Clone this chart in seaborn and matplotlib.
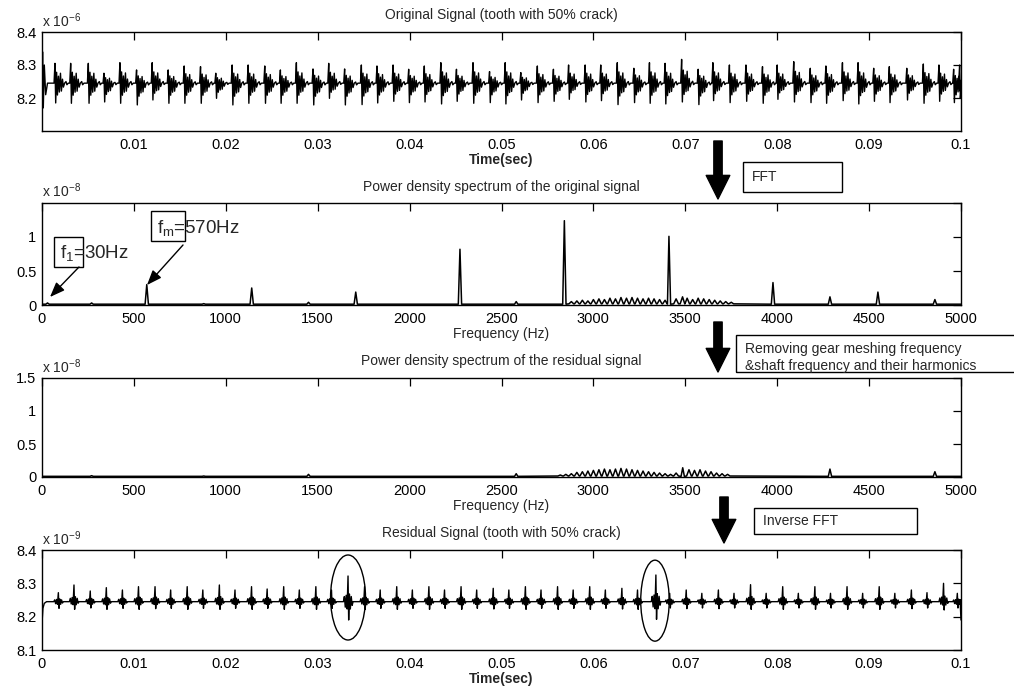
import numpy as np
import pandas as pd
import matplotlib
matplotlib.use("Agg")
import matplotlib.pyplot as plt
import seaborn as sns
from matplotlib.patches import Rectangle, Ellipse, FancyArrowPatch

# ------------------------------------------------------------------ data
# Panel 1: original signal (values x 1e-6), one burst per gear mesh period
orig_burst_t_ms = [1.41, 3.12, 5.04, 6.74, 8.48, 10.29, 11.99, 13.73, 15.47, 17.25,
                   18.91, 20.69, 22.43, 24.24, 25.94, 27.68, 29.49, 31.2, 32.93, 34.75,
                   36.45, 38.2, 39.9, 41.6, 43.4, 45.1, 46.9, 48.7, 50.4, 52.1,
                   53.9, 55.65, 57.3, 59.1, 60.8, 62.6, 64.4, 66.1, 67.8, 69.6,
                   71.4, 73.0, 74.8, 76.6, 78.4, 80.0, 81.8, 83.6, 85.3, 87.1,
                   88.8, 90.5, 92.2, 94.1, 95.9, 97.6, 99.2]
orig_burst_hi = [8.305, 8.305, 8.305, 8.275, 8.307, 8.285, 8.307, 8.285, 8.297, 8.295,
                 8.275, 8.300, 8.300, 8.297, 8.285, 8.307, 8.288, 8.305, 8.288, 8.300,
                 8.297, 8.300, 8.287, 8.297, 8.307, 8.287, 8.307, 8.280, 8.307, 8.277,
                 8.297, 8.287, 8.300, 8.300, 8.300, 8.307, 8.290, 8.307, 8.305, 8.317,
                 8.287, 8.307, 8.300, 8.300, 8.295, 8.300, 8.310, 8.290, 8.297, 8.307,
                 8.307, 8.290, 8.295, 8.290, 8.303, 8.300, 8.287]
orig_burst_lo = [8.185, 8.184, 8.184, 8.188, 8.184, 8.179, 8.194, 8.184, 8.184, 8.184,
                 8.199, 8.179, 8.184, 8.184, 8.184, 8.184, 8.179, 8.199, 8.179, 8.180,
                 8.185, 8.190, 8.186, 8.188, 8.182, 8.190, 8.184, 8.186, 8.182, 8.194,
                 8.186, 8.190, 8.196, 8.188, 8.192, 8.180, 8.186, 8.184, 8.182, 8.188,
                 8.180, 8.192, 8.186, 8.190, 8.184, 8.196, 8.188, 8.186, 8.184, 8.192,
                 8.182, 8.190, 8.186, 8.194, 8.184, 8.190, 8.186]
orig_base = 8.245
orig_start_t_ms = [0.0, 0.06, 0.14, 0.25, 0.4, 0.6]
orig_start_v = [8.17, 8.34, 8.17, 8.30, 8.21, 8.245]
orig_end_t_ms = [99.75, 99.85, 99.93, 100.0]
orig_end_v = [8.245, 8.30, 8.20, 8.22]

# Panel 4: residual signal (values x 1e-9)
resid_spike_t_ms = [1.78, 3.48, 5.25, 7.0, 8.75, 10.5, 12.3, 14.0, 15.8, 17.5,
                    19.3, 21.0, 22.8, 24.5, 26.3, 28.0, 29.8, 31.5, 33.3, 35.1,
                    36.8, 38.6, 40.3, 42.1, 43.8, 45.6, 47.3, 49.1, 50.8, 52.6,
                    54.3, 56.1, 57.8, 59.6, 61.3, 63.1, 64.8, 66.8, 68.3, 70.1,
                    71.8, 73.6, 75.3, 77.1, 78.8, 80.6, 82.3, 84.1, 85.8, 87.6,
                    89.3, 91.1, 92.8, 94.6, 96.3, 98.1, 99.6]
resid_spike_hi = [8.272, 8.295, 8.277, 8.287, 8.280, 8.290, 8.290, 8.280, 8.290, 8.280,
                  8.295, 8.280, 8.290, 8.283, 8.290, 8.280, 8.290, 8.280, 8.322, 8.290,
                  8.280, 8.290, 8.280, 8.290, 8.280, 8.290, 8.280, 8.285, 8.280, 8.290,
                  8.280, 8.290, 8.280, 8.290, 8.280, 8.285, 8.280, 8.325, 8.270, 8.280,
                  8.270, 8.280, 8.270, 8.296, 8.270, 8.290, 8.270, 8.290, 8.270, 8.290,
                  8.270, 8.290, 8.270, 8.280, 8.272, 8.300, 8.270]
resid_spike_lo = [8.225, 8.222, 8.226, 8.222, 8.225, 8.222, 8.224, 8.225, 8.222, 8.225,
                  8.222, 8.225, 8.222, 8.225, 8.222, 8.225, 8.222, 8.225, 8.190, 8.222,
                  8.225, 8.222, 8.225, 8.222, 8.225, 8.222, 8.225, 8.223, 8.225, 8.222,
                  8.225, 8.222, 8.225, 8.222, 8.225, 8.223, 8.222, 8.192, 8.226, 8.224,
                  8.226, 8.224, 8.226, 8.222, 8.226, 8.222, 8.226, 8.222, 8.226, 8.222,
                  8.226, 8.222, 8.226, 8.224, 8.226, 8.220, 8.226]
resid_base = 8.245
resid_start_t_ms = [0.0, 0.1, 0.25, 0.5]
resid_start_v = [8.18, 8.225, 8.24, 8.245]
resid_end_t_ms = [99.8, 99.9, 100.0]
resid_end_v = [8.245, 8.25, 8.19]

# Panel 2: power density spectrum of the original signal (x 1e-8)
orig_peak_f = [30, 270, 570, 880, 1141, 1450, 1707, 2274, 2580, 2842, 3411, 3977,
               4287, 4548, 4858]
orig_peak_h = [0.03, 0.03, 0.30, 0.02, 0.25, 0.04, 0.19, 0.82, 0.05, 1.24, 1.01, 0.33,
               0.12, 0.19, 0.08]
orig_comb_f = [2880, 2910, 2940, 2970, 3000, 3030, 3060, 3090, 3120, 3150, 3180, 3210,
               3240, 3270, 3300, 3330, 3360, 3390, 3450, 3485, 3510, 3540, 3570, 3600,
               3630, 3660, 3690, 3720, 3750]
orig_comb_h = [0.05, 0.06, 0.07, 0.06, 0.08, 0.09, 0.08, 0.10, 0.09, 0.11, 0.10, 0.11,
               0.10, 0.09, 0.10, 0.09, 0.08, 0.07, 0.09, 0.12, 0.10, 0.08, 0.10, 0.09,
               0.08, 0.07, 0.06, 0.05, 0.04]
orig_floor = 0.012

# Panel 3: power density spectrum of the residual signal (x 1e-8)
resid_peak_f = [270, 880, 1450, 2580, 3486, 4287, 4858]
resid_peak_h = [0.02, 0.015, 0.04, 0.05, 0.14, 0.12, 0.08]
resid_comb_f = [2820, 2850, 2880, 2910, 2940, 2970, 3000, 3030, 3060, 3090, 3120, 3150,
                3180, 3210, 3240, 3270, 3300, 3330, 3360, 3390, 3420, 3450, 3520, 3550,
                3580, 3610, 3640, 3670, 3700, 3730]
resid_comb_h = [0.03, 0.04, 0.05, 0.07, 0.08, 0.09, 0.10, 0.11, 0.12, 0.11, 0.12, 0.13,
                0.12, 0.11, 0.10, 0.09, 0.08, 0.07, 0.06, 0.05, 0.04, 0.06, 0.11, 0.10,
                0.11, 0.09, 0.08, 0.06, 0.05, 0.04]
resid_floor = 0.01

# Axis ticks / labels
time_ticks = [0.01, 0.02, 0.03, 0.04, 0.05, 0.06, 0.07, 0.08, 0.09, 0.1]
time_ticks4 = [0, 0.01, 0.02, 0.03, 0.04, 0.05, 0.06, 0.07, 0.08, 0.09, 0.1]
freq_ticks = [0, 500, 1000, 1500, 2000, 2500, 3000, 3500, 4000, 4500, 5000]
sig1_yticks = [8.2, 8.3, 8.4]
spec2_yticks = [0, 0.5, 1]
spec3_yticks = [0, 0.5, 1, 1.5]
sig4_yticks = [8.1, 8.2, 8.3, 8.4]

titles = ["Original Signal (tooth with 50% crack)",
          "Power density spectrum of the original signal",
          "Power density spectrum of the residual signal",
          "Residual Signal (tooth with 50% crack)"]

# ------------------------------------------------------------------ helpers
ORIG_SHAPE = [(-0.10, 0.0), (0.0, 1.0), (0.08, -1.0), (0.18, 0.55), (0.27, -0.6),
              (0.38, 0.35), (0.48, -0.45), (0.60, 0.5), (0.70, -0.4), (0.82, 0.2),
              (0.92, -0.2), (1.05, 0.0), (1.2, 0.08), (1.3, -0.08), (1.45, 0.0)]
RESID_SHAPE = [(-0.5, 0.0), (-0.4, 0.2), (-0.3, -0.3), (-0.2, 0.25), (-0.1, -0.4),
               (0.0, 1.0), (0.07, -1.0), (0.15, 0.3), (0.25, -0.4), (0.35, 0.2),
               (0.45, -0.2), (0.55, 0.0)]


def signal_frame(t_ms, hi, lo, base, st, sv, et, ev, shape):
    ts, vs = list(st), list(sv)
    for t, h, l in zip(t_ms, hi, lo):
        for off, w in shape:
            ts.append(t + off)
            vs.append(base + (w * (h - base) if w >= 0 else -w * (l - base)))
    ts += list(et)
    vs += list(ev)
    df = pd.DataFrame({"t": np.array(ts) / 1000.0, "v": vs})
    return df


def spectrum_frame(pf, ph, cf, ch, floor, w_peak=9, w_comb=13):
    pts = [(0, floor), (5000, floor)]
    for f, h in zip(pf, ph):
        pts += [(f - w_peak, floor), (f, h), (f + w_peak, floor)]
    for f, h in zip(cf, ch):
        pts += [(f - w_comb, floor + 0.005), (f, h), (f + w_comb, floor + 0.005)]
    pts.sort()
    return pd.DataFrame(pts, columns=["f", "p"])


# ------------------------------------------------------------------ style
sns.set_theme(style="white")
plt.rcParams["font.family"] = ["Liberation Sans", "DejaVu Sans"]
plt.rcParams["axes.edgecolor"] = "black"
plt.rcParams["axes.linewidth"] = 1.0
plt.rcParams["mathtext.fontset"] = "custom"
plt.rcParams["mathtext.rm"] = "Liberation Sans"
plt.rcParams["mathtext.it"] = "Liberation Sans"

W, H = 1014, 694
fig = plt.figure(figsize=(W / 100, H / 100), dpi=100)
fig.patch.set_facecolor("white")


def px(x, y):
    return (x / W, 1 - y / H)


def make_ax(top, bottom):
    return fig.add_axes([42 / W, 1 - bottom / H, 919 / W, (bottom - top) / H])


ax1 = make_ax(32, 131)
ax2 = make_ax(203, 305)
ax3 = make_ax(378, 477)
ax4 = make_ax(550, 650)

df1 = signal_frame(orig_burst_t_ms, orig_burst_hi, orig_burst_lo, orig_base,
                   orig_start_t_ms, orig_start_v, orig_end_t_ms, orig_end_v, ORIG_SHAPE)
df4 = signal_frame(resid_spike_t_ms, resid_spike_hi, resid_spike_lo, resid_base,
                   resid_start_t_ms, resid_start_v, resid_end_t_ms, resid_end_v, RESID_SHAPE)
df2 = spectrum_frame(orig_peak_f, orig_peak_h, orig_comb_f, orig_comb_h, orig_floor)
df3 = spectrum_frame(resid_peak_f, resid_peak_h, resid_comb_f, resid_comb_h, resid_floor)

sns.lineplot(data=df1, x="t", y="v", ax=ax1, color="black", lw=1.0, sort=False, estimator=None)
sns.lineplot(data=df2, x="f", y="p", ax=ax2, color="black", lw=1.1, sort=False, estimator=None)
sns.lineplot(data=df3, x="f", y="p", ax=ax3, color="black", lw=1.1, sort=False, estimator=None)
sns.lineplot(data=df4, x="t", y="v", ax=ax4, color="black", lw=1.0, sort=False, estimator=None)

TICK_FS = 10.5


def fmt(v):
    return "%g" % v


for ax in (ax1, ax2, ax3, ax4):
    ax.tick_params(direction="in", top=True, right=True, length=5.5, width=0.9,
                   labelsize=TICK_FS, pad=4, colors="black")
    ax.tick_params(axis="x", pad=5)
    for s in ax.spines.values():
        s.set_visible(True)
        s.set_color("black")
        s.set_linewidth(1.0)
    ax.set_ylabel("")
    ax.grid(False)

ax1.set_xlim(0, 0.1)
ax1.set_ylim(8.1, 8.4)
ax1.set_xticks(time_ticks)
ax1.set_xticklabels([fmt(v) for v in time_ticks])
ax1.set_yticks(sig1_yticks)
ax1.set_yticklabels([fmt(v) for v in sig1_yticks])

ax4.set_xlim(0, 0.1)
ax4.set_ylim(8.1, 8.4)
ax4.set_xticks(time_ticks4)
ax4.set_xticklabels([fmt(v) for v in time_ticks4])
ax4.set_yticks(sig4_yticks)
ax4.set_yticklabels([fmt(v) for v in sig4_yticks])

for ax in (ax2, ax3):
    ax.set_xlim(0, 5000)
    ax.set_ylim(0, 1.5)
    ax.set_xticks(freq_ticks)
    ax.set_xticklabels([fmt(v) for v in freq_ticks])
ax2.set_yticks([0, 0.5, 1, 1.5])
ax2.set_yticklabels([fmt(v) for v in spec2_yticks] + [""])
ax3.set_yticks(spec3_yticks)
ax3.set_yticklabels([fmt(v) for v in spec3_yticks])

for ax, t in zip((ax1, ax2, ax3, ax4), titles):
    ax.set_title(t, fontsize=10, pad=9)

ax1.set_xlabel("Time(sec)", fontsize=10, fontweight="bold", labelpad=1)
ax4.set_xlabel("Time(sec)", fontsize=10, fontweight="bold", labelpad=1)
ax2.set_xlabel("Frequency (Hz)", fontsize=10, labelpad=1)
ax3.set_xlabel("Frequency (Hz)", fontsize=10, labelpad=1)

for ax, e in ((ax1, "-6"), (ax2, "-8"), (ax3, "-8"), (ax4, "-9")):
    ax.text(0.0, 1.025, r"x 10$^{%s}$" % e, transform=ax.transAxes, ha="left",
            va="bottom", fontsize=10)

# Ellipses marking the crack impulses
ax4.add_patch(Ellipse((0.0333, 8.2575), 0.0038, 0.255, fill=False, lw=1.0, ec="black"))
ax4.add_patch(Ellipse((0.0667, 8.248), 0.0031, 0.243, fill=False, lw=1.0, ec="black"))


# ------------------------------------------------------------------ figure-level annotations
def box(x0, y0, x1, y1):
    fig.add_artist(Rectangle(px(x0, y1), (x1 - x0) / W, (y1 - y0) / H,
                             transform=fig.transFigure, fill=False, lw=1.0, ec="black"))


def big_arrow(x, y0, y1):
    fig.add_artist(FancyArrowPatch(px(x, y0), px(x, y1), transform=fig.transFigure,
                                   arrowstyle="simple,head_width=0.85,head_length=0.85,tail_width=0.3",
                                   mutation_scale=20, color="black", shrinkA=0, shrinkB=0))


def thin_arrow(x0, y0, x1, y1):
    fig.add_artist(FancyArrowPatch(px(x0, y0), px(x1, y1), transform=fig.transFigure,
                                   arrowstyle="-|>,head_width=0.35,head_length=0.9",
                                   mutation_scale=10, color="black", lw=1.0,
                                   shrinkA=0, shrinkB=0))


big_arrow(718, 141, 199)
big_arrow(718, 322, 372)
big_arrow(724, 497, 543)

box(743, 162, 842, 192)
fig.text(*px(752, 177), "FFT", ha="left", va="center", fontsize=10)

box(736, 335, 1020, 372)
fig.text(*px(745, 349), "Removing gear meshing frequency", ha="left", va="center", fontsize=10)
fig.text(*px(745, 366), "&shaft frequency and their harmonics", ha="left", va="center", fontsize=10)

box(754, 508, 917, 534)
fig.text(*px(763, 521), "Inverse FFT", ha="left", va="center", fontsize=10)

box(54, 237, 83, 267)
fig.text(*px(60, 253), r"f$_1$=30Hz", ha="left", va="center", fontsize=13.5)
thin_arrow(79, 267, 50, 297)

box(151, 211, 185, 241)
fig.text(*px(157, 228), r"f$_m$=570Hz", ha="left", va="center", fontsize=13.5)
thin_arrow(183, 245, 147, 285)

fig.savefig("out.png", dpi=100, facecolor="white")
